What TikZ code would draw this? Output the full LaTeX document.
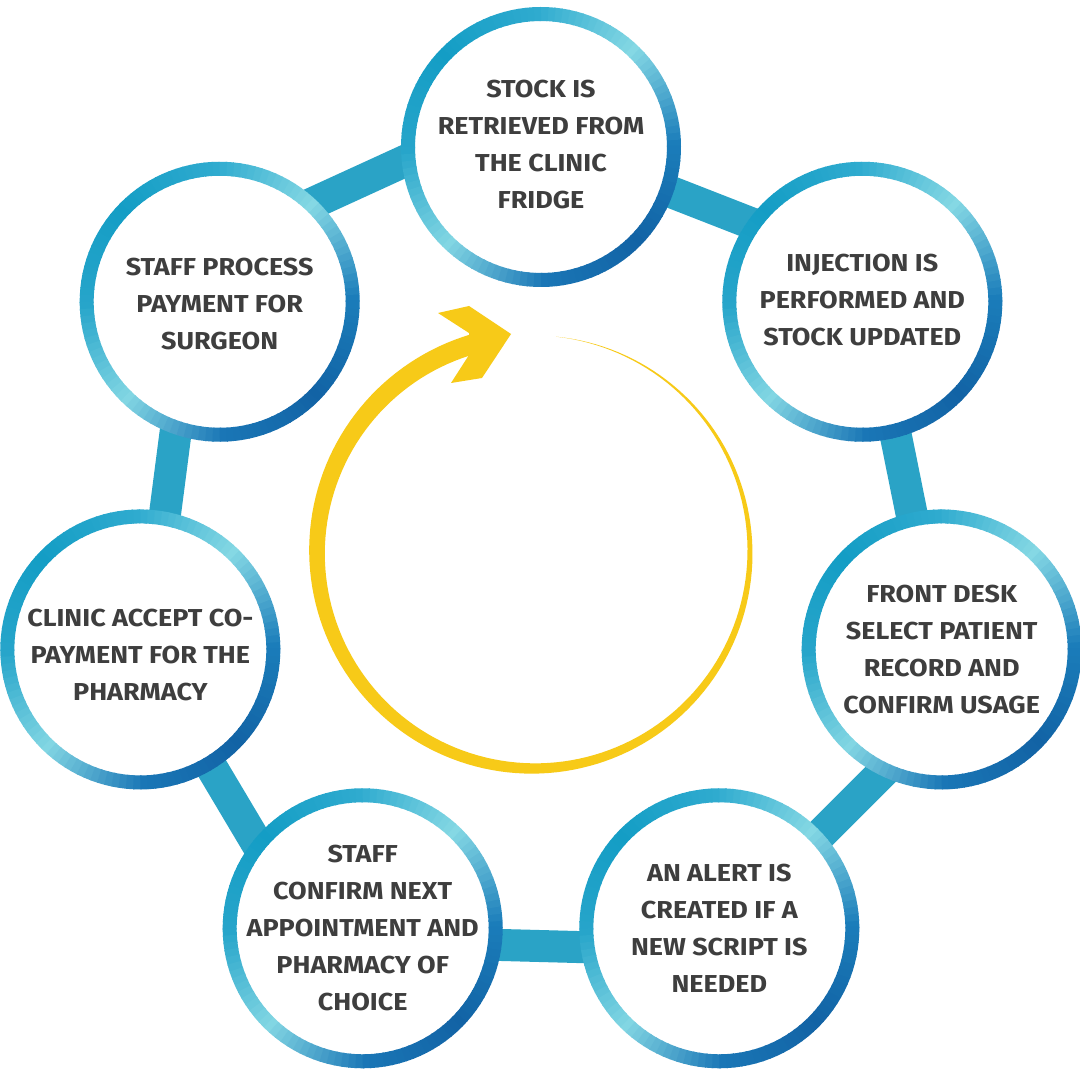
\documentclass[tikz,border=0pt]{standalone}
\usepackage{fontspec}
\setmainfont{Fira Sans}[FakeStretch=1.1]
\pgfdeclarelayer{back}
\pgfsetlayers{back,main}
\definecolor{rc0}{HTML}{1B7DBA}
\definecolor{rc1}{HTML}{85D8E4}
\definecolor{rc2}{HTML}{2FABCF}
\definecolor{rc3}{HTML}{149DC5}
\definecolor{rc4}{HTML}{27A5CA}
\definecolor{rc5}{HTML}{82D6E3}
\definecolor{rc6}{HTML}{1A76B6}
\definecolor{rc7}{HTML}{1263A5}
\definecolor{rc8}{HTML}{1B7DBA}
\definecolor{barc}{HTML}{2AA3C6}
\definecolor{txtc}{HTML}{3E3E3E}
\definecolor{arrowc}{HTML}{F7CA18}
\tikzset{
  stepnode/.style={circle, minimum size=280pt, inner sep=0pt},
  steptext/.style={align=center, text=txtc, font=\fontsize{24.5pt}{37pt}\selectfont\bfseries},
  linkbar/.style={barc, line width=32pt},
}
\begin{document}
\begin{tikzpicture}[x=1pt,y=1pt]
\useasboundingbox (0,0) rectangle (1080,1080);
% step nodes (positions on a heptagon)
\foreach \k in {1,...,7}{
  \path (541,522) ++({90-(\k-1)*360/7}:411) node[stepnode] (n\k) {};
}
% ends of the linking bars (inside the circles)
\coordinate (b12a) at (542.9,938.0);  \coordinate (b12b) at (874.2,808.7);
\coordinate (b23a) at (868.5,779.5);  \coordinate (b23b) at (939.1,430.2);
\coordinate (b34a) at (973.7,398.6);  \coordinate (b34b) at (723.1,148.0);
\coordinate (b45a) at (719.3,129.2);  \coordinate (b45b) at (362.7,138.7);
\coordinate (b56a) at (321.8,127.4);  \coordinate (b56b) at (141.1,431.1);
\coordinate (b67a) at (147.3,429.7);  \coordinate (b67b) at (193.0,781.8);
\coordinate (b71a) at (198.5,824.5);  \coordinate (b71b) at (522.7,972.9);
\begin{pgfonlayer}{back}
  \fill[white] (0,0) rectangle (1080,1080);
  \foreach \i in {12,23,34,45,56,67,71}{
    \draw[linkbar] (b\i a) -- (b\i b);
  }
  \foreach \k in {1,...,7}{
    \fill[white] (n\k.center) circle[radius=127];
    \foreach \a in {0,3,...,357}{
      \pgfmathtruncatemacro\seg{floor(\a/45)}
      \pgfmathtruncatemacro\nxt{\seg+1}
      \pgfmathtruncatemacro\pct{round(100-100*(\a-45*\seg)/45)}
      \colorlet{segc}{rc\seg!\pct!rc\nxt}
      \draw[segc, line width=14pt] (n\k.center) ++(\a:133) arc[start angle=\a, delta angle=3.6, radius=133];
    }
  }
\end{pgfonlayer}
% texts
\node[steptext] (t1) at ([yshift=2pt]n1.center) {STOCK IS\\RETRIEVED FROM\\THE CLINIC\\FRIDGE};
\node[steptext] (t2) at ([yshift=2pt]n2.center) {INJECTION IS\\PERFORMED AND\\STOCK UPDATED};
\node[steptext] (t3) at (n3) {FRONT DESK\\SELECT PATIENT\\RECORD AND\\CONFIRM USAGE};
\node[steptext] (t4) at (n4) {AN ALERT IS\\CREATED IF A\\NEW SCRIPT IS\\NEEDED};
\node[steptext] (t5) at (n5) {STAFF\\CONFIRM NEXT\\APPOINTMENT AND\\PHARMACY OF\\CHOICE};
\node[steptext] (t6) at ([yshift=-6pt]n6.center) {CLINIC ACCEPT CO-\\PAYMENT FOR THE\\PHARMACY};
\node[steptext] (t7) at ([yshift=-2pt]n7.center) {STAFF PROCESS\\PAYMENT FOR\\SURGEON};
% central cycle arrow
\fill[arrowc]
  plot[variable=\t, domain=0:1, samples=160]
    ({533.5+(216.5+10*\t)*cos(84-338*\t)}, {528+(216.5+10*\t)*sin(84-338*\t)})
  -- plot[variable=\t, domain=0:1, samples=160]
    ({533.5+(216.5-10*(1-\t))*cos(84-338*(1-\t))}, {528+(216.5-10*(1-\t))*sin(84-338*(1-\t))})
  -- cycle;
\fill[arrowc] (511,746) -- (469,774) -- (438,767) -- (469,747) -- (469,725) -- (451,697) -- (482,702) -- cycle;
\end{tikzpicture}
\end{document}
